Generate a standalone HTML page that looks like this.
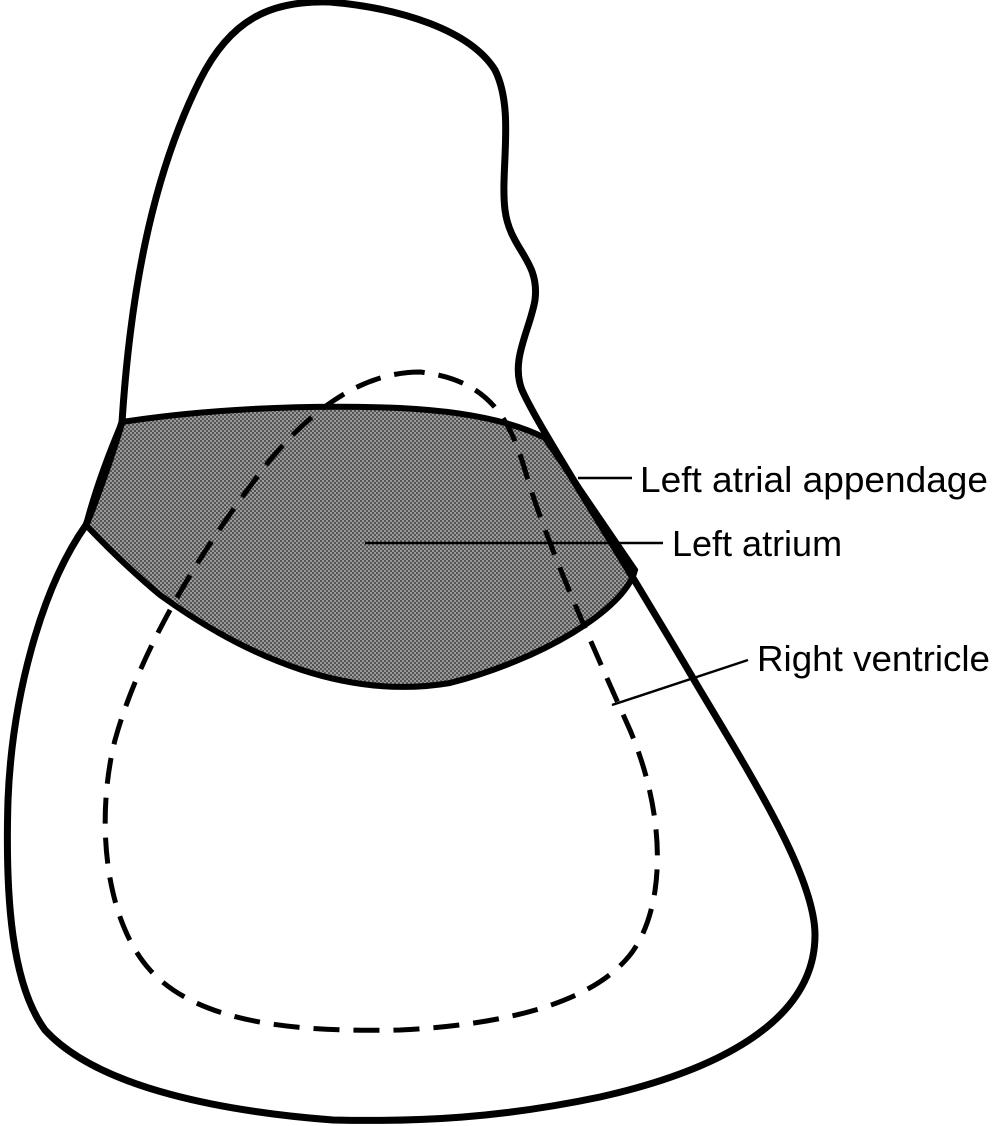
<!DOCTYPE html>
<html><head><meta charset="utf-8"><style>
html,body{margin:0;padding:0;background:#fff;}
svg{display:block;}
text{font-family:"Liberation Sans",Arial,sans-serif;font-size:36px;fill:#000;}
</style></head><body>
<svg width="992" height="1126" viewBox="0 0 992 1126" xmlns="http://www.w3.org/2000/svg">
<defs>
<pattern id="dots" width="4" height="4" patternUnits="userSpaceOnUse">
<rect width="4" height="4" fill="#9a9a9a"/>
<rect width="2" height="2" fill="#555"/>
<rect x="2" y="2" width="2" height="2" fill="#555"/>
</pattern>
</defs>
<path d="M122,422 C200,410 300,404 400,408 C460,411 510,420 545,438 L635,570 C625,610 540,660 450,683 C350,700 250,660 160,595 C130,570 105,545 86,525 C95,490 108,455 122,422 Z" fill="url(#dots)" stroke="#000" stroke-width="6"/>
<path d="M122,422 C130,300 150,180 200,80 C230,20 270,0 330,2 C400,8 470,30 495,70 C515,110 500,170 505,210 C510,250 540,260 535,300 C530,330 510,360 522,390 C540,430 600,520 700,690 C760,790 815,880 815,935 C815,1020 720,1070 600,1097 C500,1118 420,1122 333,1120 C230,1112 100,1090 45,1030 C12,985 5,900 8,800 C12,700 40,590 86,525 C100,490 112,455 122,422 Z" fill="none" stroke="#000" stroke-width="7"/>
<path d="M420,372 C370,372 320,400 270,460 C200,550 140,650 115,740 C95,820 105,920 150,970 C200,1025 300,1032 400,1030 C500,1025 590,1005 630,955 C665,910 668,820 630,730 C590,640 545,540 525,470 C510,420 490,380 420,372 Z" fill="none" stroke="#000" stroke-width="5" stroke-dasharray="26,14"/>
<line x1="578" y1="478" x2="632" y2="478" stroke="#000" stroke-width="2.5"/>
<line x1="365" y1="543" x2="663" y2="543" stroke="#000" stroke-width="2.5"/>
<line x1="612" y1="705" x2="748" y2="660" stroke="#000" stroke-width="2.5"/>
<text x="640" y="492" textLength="348" lengthAdjust="spacingAndGlyphs">Left atrial appendage</text>
<text x="672" y="556">Left atrium</text>
<text x="757" y="671" textLength="233" lengthAdjust="spacingAndGlyphs">Right ventricle</text>
</svg>
</body></html>
